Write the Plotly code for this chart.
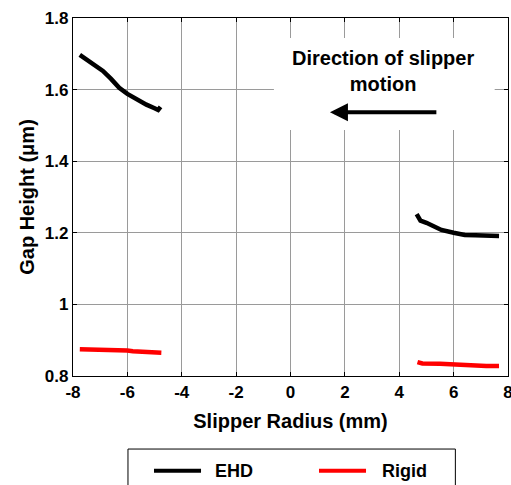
import plotly.graph_objects as go

# EHD series (two separate segments)
ehd_left_x = [-7.75, -7.3, -6.9, -6.6, -6.3, -6.0, -5.6, -5.3, -5.0, -4.87, -4.78]
ehd_left_y = [1.697, 1.675, 1.652, 1.630, 1.605, 1.588, 1.570, 1.558, 1.548, 1.543, 1.552]
ehd_right_x = [4.64, 4.78, 5.0, 5.25, 5.55, 6.0, 6.41, 6.8, 7.21, 7.67]
ehd_right_y = [1.252, 1.234, 1.228, 1.219, 1.208, 1.200, 1.194, 1.193, 1.192, 1.191]

# Rigid series
rigid_left_x = [-7.75, -7.0, -6.9, -6.0, -5.8, -5.0, -4.75]
rigid_left_y = [0.875, 0.874, 0.872, 0.871, 0.869, 0.868, 0.865]
rigid_right_x = [4.67, 4.85, 5.5, 5.95, 6.5, 6.9, 7.2, 7.67]
rigid_right_y = [0.839, 0.835, 0.834, 0.832, 0.831, 0.829, 0.828, 0.828]

x_ticks = [-8, -6, -4, -2, 0, 2, 4, 6, 8]
y_ticks = [0.8, 1.0, 1.2, 1.4, 1.6, 1.8]
y_tick_labels = ["0.8", "1", "1.2", "1.4", "1.6", "1.8"]

FONT = "Liberation Sans, Arial, sans-serif"

fig = go.Figure()
for xs, ys, color, name in [
    (ehd_left_x, ehd_left_y, "black", "EHD"),
    (ehd_right_x, ehd_right_y, "black", "EHD"),
    (rigid_left_x, rigid_left_y, "#ff0000", "Rigid"),
    (rigid_right_x, rigid_right_y, "#ff0000", "Rigid"),
]:
    fig.add_trace(go.Scatter(x=xs, y=ys, mode="lines", name=name,
                             line=dict(color=color, width=4.5),
                             showlegend=False, legendgroup=name))

axis_common = dict(
    showline=True, linecolor="black", linewidth=1.3, mirror="allticks",
    ticks="inside", ticklen=4, tickcolor="black", tickwidth=1,
    showgrid=True, gridcolor="#9a9a9a", gridwidth=1, zeroline=False,
    tickfont=dict(family=FONT, size=17, color="black", weight="bold"),
    ticklabeloverflow="allow", automargin=False,
)

fig.update_xaxes(range=[-8, 8], tickvals=x_ticks, ticktext=[str(v) for v in x_ticks],
                 title=dict(text="<b>Slipper Radius (mm)</b>", standoff=13,
                            font=dict(family=FONT, size=20, color="black")),
                 **axis_common)
fig.update_yaxes(range=[0.8, 1.8], tickvals=y_ticks, ticktext=y_tick_labels,
                 title=dict(text="<b>Gap Height (μm)</b>", standoff=4,
                            font=dict(family=FONT, size=20, color="black")),
                 **axis_common)

# white box behind the annotation text (hides gridlines)
fig.add_shape(type="rect", xref="x", yref="y", x0=-0.61, x1=7.51, y0=1.487, y1=1.744,
              fillcolor="white", line=dict(width=0), layer="between")

fig.add_annotation(x=3.4, y=1.652, xref="x", yref="y",
                   text="<b>Direction of slipper<br>motion</b>", showarrow=False,
                   font=dict(family=FONT, size=20, color="black"))
fig.add_annotation(x=1.45, y=1.537, ax=5.42, ay=1.537, xref="x", yref="y",
                   axref="x", ayref="y", text="", showarrow=True,
                   arrowhead=2, arrowsize=0.9, arrowwidth=4, arrowcolor="black")

# manual legend
fig.add_shape(type="rect", xref="paper", yref="paper", x0=0.1264, x1=0.879,
              y0=-0.34, y1=-0.204, line=dict(color="black", width=1), fillcolor="white")
for x0, x1, color in [(0.1862, 0.2943, "black"), (0.5655, 0.6736, "#ff0000")]:
    fig.add_shape(type="line", xref="paper", yref="paper", x0=x0, x1=x1,
                  y0=-0.2645, y1=-0.2645, line=dict(color=color, width=4))
for xp, txt in [(0.3218, "EHD"), (0.7057, "Rigid")]:
    fig.add_annotation(x=xp, y=-0.2645, xref="paper", yref="paper", text=f"<b>{txt}</b>",
                       showarrow=False, xanchor="left", yanchor="middle",
                       font=dict(family=FONT, size=18, color="black"))

fig.update_layout(
    width=511, height=485,
    margin=dict(l=73, r=3, t=18, b=109),
    paper_bgcolor="white", plot_bgcolor="white",
    showlegend=False,
)

fig.write_html("out.html")
